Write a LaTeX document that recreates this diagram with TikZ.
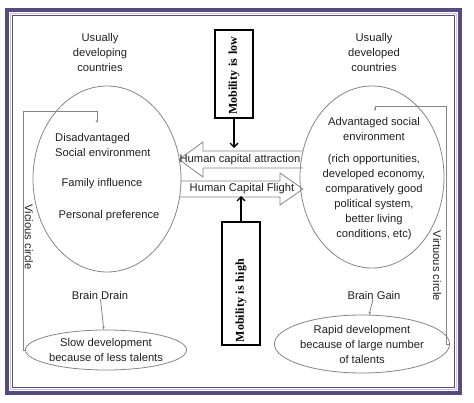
\documentclass[tikz,border=0pt]{standalone}
\usepackage{fontspec}
\setmainfont{Liberation Sans}
\newfontfamily\mobfont{Liberation Serif}
\usetikzlibrary{arrows.meta, positioning, calc, shapes.geometric}
\definecolor{Plum}{HTML}{574A7C}
\definecolor{Lilac}{HTML}{CFC2E6}
\definecolor{Ash}{HTML}{858585}
\definecolor{Ink}{HTML}{202020}

\begin{document}
\begin{tikzpicture}[x=1pt, y=-1pt,
    lbl/.style={font=\fontsize{11.2}{15}\selectfont, text=Ink, align=center, inner sep=0pt},
    oval/.style={draw=Ash, ellipse, inner sep=0pt, line width=0.8pt},
    mobbox/.style={draw, line width=1.4pt, rotate=90, minimum height=38pt, align=left,
        inner sep=3pt, font=\mobfont\bfseries\fontsize{12}{14}\selectfont},
    mobarr/.style={-{Straight Barb[length=4pt, width=8pt]}, line width=1.4pt},
    fat/.style={draw=Ash, fill=white, line width=0.8pt},
    loopline/.style={draw=Ash, line width=0.8pt, -{Stealth[length=3pt, width=2.5pt]}}
]
\useasboundingbox (0,0) rectangle (474,403);

\draw[Plum, line width=4pt] (7,10) rectangle (460,393);
\draw[Lilac, line width=1.5pt] (10.3,13.3) rectangle (456.7,389.7);
\draw[Plum, line width=1.2pt] (12.3,15.3) rectangle (454.7,387.7);

\draw[fat] (303,151) -- (203,151) -- (203,142) -- (179,159.5) -- (203,177) -- (203,168) -- (303,168);
\draw[fat] (180,181) -- (280,181) -- (280,173) -- (303,189) -- (280,205) -- (280,197) -- (180,197);
\node[lbl] (attr) at (240,160) {Human capital attraction};
\node[lbl] (flight) at (242,189) {Human Capital Flight};

\node[oval, minimum width=148pt, minimum height=186pt] (poor) at (107,179) {};
\node[oval, minimum width=144pt, minimum height=182pt] (rich) at (372,177) {};
\node[oval, lbl, minimum width=146pt, minimum height=40pt] (slow) at (106,350) {Slow development\\because of less talents};
\node[oval, lbl, minimum width=150pt, minimum height=58pt] (rapid) at (362,344) {Rapid development\\because of large number\\of talents};

\node[lbl] (poorhead) at (100,52) {Usually\\developing\\countries};
\node[lbl] (richhead) at (374,53) {Usually\\developed\\countries};
\node[lbl, align=left, anchor=west] (disadv) at (55,145) {Disadvantaged\\Social environment};
\node[lbl] (family) at (102,184) {Family influence};
\node[lbl] (pref) at (109,216) {Personal preference};
\node[lbl] (adv) at (374,129) {Advantaged social\\environment};
\node[lbl] (detail) at (374,197) {(rich opportunities,\\developed economy,\\comparatively good\\political system,\\better living\\conditions, etc)};
\node[lbl] (drain) at (100,295) {Brain Drain};
\node[lbl] (gain) at (374,295) {Brain Gain};
\node[lbl, rotate=-90] (vicious) at (29,237) {Vicious circle};
\node[lbl, rotate=-90] (virtuous) at (437,266) {Virtuous circle};

\node[mobbox, minimum width=88pt, text width=82pt] (low) at (234,74) {Mobility is low};
\node[mobbox, minimum width=123pt, text width=117pt] (high) at (241,283.5) {Mobility is high};
\coordinate (lowtip) at (234,148);
\coordinate (hightip) at (241,196);
\draw[mobarr] (low.west) -- (lowtip);
\draw[mobarr] (high.east) -- (hightip);

\draw[loopline] (drain) -- (slow);
\draw[loopline] (gain) -- (rapid);
\coordinate (poorin) at (97,123);
\coordinate (richin) at (375,111);
\draw[loopline] (slow.west) -| (23,111) -| (poorin);
\draw[loopline] (rapid.east) -| (446,106) -| (richin);

\end{tikzpicture}
\end{document}
